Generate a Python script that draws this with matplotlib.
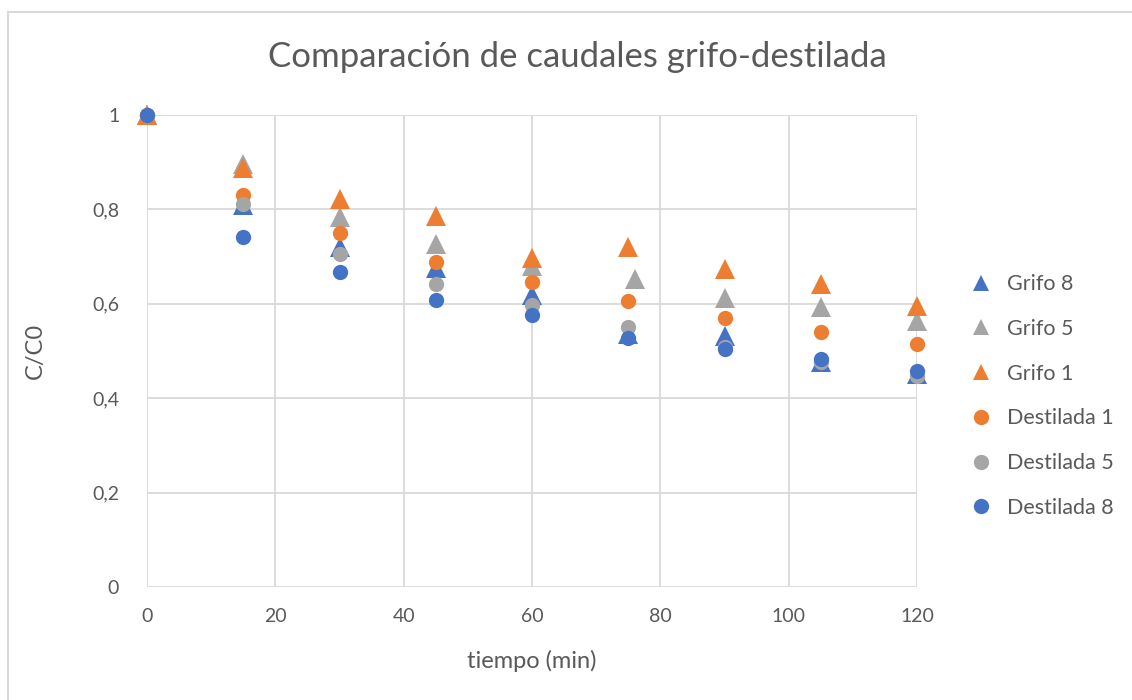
import matplotlib
matplotlib.use("Agg")
import matplotlib.pyplot as plt
from matplotlib.lines import Line2D
from matplotlib.ticker import FuncFormatter, MultipleLocator

# Sampling times (min)
tiempo = [0, 15, 30, 45, 60, 75, 90, 105, 120]
tiempo_grifo5 = [0, 15, 30, 45, 60, 76, 90, 105, 120]

# Relative concentration C/C0 for each run
grifo_8 = [1.0, 0.810, 0.720, 0.675, 0.618, 0.535, 0.531, 0.476, 0.452]
grifo_5 = [1.0, 0.897, 0.783, 0.727, 0.680, 0.653, 0.613, 0.593, 0.563]
grifo_1 = [1.0, 0.887, 0.821, 0.787, 0.698, 0.721, 0.674, 0.643, 0.596]
destilada_1 = [1.0, 0.830, 0.751, 0.689, 0.646, 0.605, 0.569, 0.541, 0.514]
destilada_5 = [1.0, 0.811, 0.706, 0.642, 0.597, 0.551, 0.509, 0.476, 0.446]
destilada_8 = [1.0, 0.742, 0.667, 0.608, 0.576, 0.527, 0.504, 0.483, 0.458]

BLUE = "#4472C4"
ORANGE = "#ED7D31"
GRAY = "#A5A5A5"
TEXT = "#595959"
GRID = "#D9D9D9"

plt.rcParams["font.family"] = ["Lato", "DejaVu Sans"]

W, H = 1132, 700
fig = plt.figure(figsize=(W / 100, H / 100), dpi=100)
ax = fig.add_axes([147 / W, 1 - 587 / H, (917 - 147) / W, (587 - 115) / H])

series = [
    ("Grifo 8", tiempo, grifo_8, BLUE, "^"),
    ("Grifo 5", tiempo_grifo5, grifo_5, GRAY, "^"),
    ("Grifo 1", tiempo, grifo_1, ORANGE, "^"),
    ("Destilada 1", tiempo, destilada_1, ORANGE, "o"),
    ("Destilada 5", tiempo, destilada_5, GRAY, "o"),
    ("Destilada 8", tiempo, destilada_8, BLUE, "o"),
]

handles = []
for i, (name, xs, ys, color, mk) in enumerate(series):
    ms = 14 if mk == "^" else 11
    ax.plot(xs, ys, linestyle="none", marker=mk, markersize=ms,
            color=color, markeredgewidth=0, clip_on=False, zorder=3 + i)
    handles.append(Line2D([], [], linestyle="none", marker=mk,
                          markersize=11, color=color, markeredgewidth=0,
                          label=name))

ax.set_xlim(0, 120)
ax.set_ylim(0, 1)
ax.xaxis.set_major_locator(MultipleLocator(20))
ax.yaxis.set_major_locator(MultipleLocator(0.2))
ax.yaxis.set_major_formatter(FuncFormatter(lambda v, p: f"{v:g}".replace(".", ",")))
ax.grid(True, color=GRID, linewidth=1.3, zorder=0)
ax.set_axisbelow(True)
for s in ax.spines.values():
    s.set_visible(False)
ax.tick_params(length=0, labelsize=14, labelcolor=TEXT)
ax.tick_params(axis="x", pad=15)
ax.tick_params(axis="y", pad=20)

ax.set_xlabel("tiempo (min)", fontsize=17, color=TEXT, labelpad=18)
ax.set_ylabel("C/C0", fontsize=17, color=TEXT, labelpad=33)

fig.text(577 / W, 1 - 57 / H, "Comparación de caudales grifo-destilada",
         ha="center", va="center", fontsize=25, color=TEXT)

leg = fig.legend(handles=handles, loc="center left",
                 bbox_to_anchor=(962 / W, 1 - 396 / H), frameon=False,
                 fontsize=15.5, labelspacing=1.15, handlelength=0.8,
                 handletextpad=0.8, borderpad=0)
for t in leg.get_texts():
    t.set_color(TEXT)

# Chart area frame (left and top edges)
fig.add_artist(Line2D([8 / W, 8 / W], [0, 1 - 12 / H], transform=fig.transFigure,
                      color=GRID, linewidth=1.5))
fig.add_artist(Line2D([8 / W, 1], [1 - 12 / H, 1 - 12 / H], transform=fig.transFigure,
                      color=GRID, linewidth=1.5))

fig.savefig("out.png", dpi=100)
